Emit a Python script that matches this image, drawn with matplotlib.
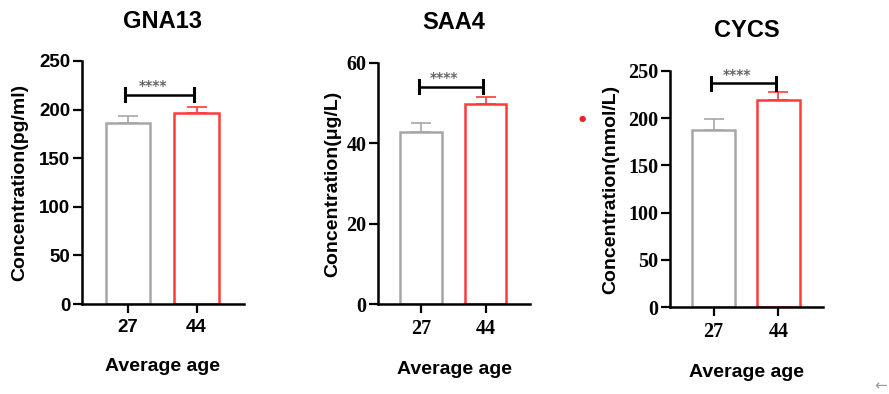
import matplotlib.pyplot as plt

# data
groups = ["27", "44"]
titles = ["GNA13", "SAA4", "CYCS"]
ylabels = ["Concentration(pg/ml)", "Concentration(μg/L)", "Concentration(nmol/L)"]
gna13_mean = [186.5, 197.0]
gna13_err = [7.0, 6.0]
saa4_mean = [42.9, 49.8]
saa4_err = [2.0, 1.7]
cycs_mean = [187.5, 219.0]
cycs_err = [11.5, 8.5]
sig_levels = [215.5, 54.0, 236.5]
yticks = [[0, 50, 100, 150, 200, 250], [0, 20, 40, 60], [0, 50, 100, 150, 200, 250]]
ymax = [250, 60, 250]

GRAY = "#a7a7aa"
RED = "#ff3b3b"

means = [gna13_mean, saa4_mean, cycs_mean]
errs = [gna13_err, saa4_err, cycs_err]
boxes = [
    [0.0922, 0.2284, 0.1822, 0.6168],
    [0.4255, 0.2277, 0.1706, 0.6132],
    [0.7537, 0.2201, 0.1724, 0.6005],
]
tick_fonts = ["Liberation Sans", "Liberation Serif", "Liberation Serif"]
tick_sizes = [13.5, 14.5, 14.5]
ylabel_pads = [8, 4, 6]

fig = plt.figure(figsize=(8.89, 3.94), dpi=100)

for i in range(3):
    ax = fig.add_axes(boxes[i])
    x = [0, 1]
    for j, c in enumerate([GRAY, RED]):
        ax.bar(x[j], means[i][j], width=0.65, facecolor="white", edgecolor=c,
               linewidth=1.8, zorder=2)
        ax.errorbar(x[j], means[i][j], yerr=[[0], [errs[i][j]]], color=c,
                    capsize=7, elinewidth=1.2, capthick=1.2, zorder=1)
    # significance bracket
    lo = sig_levels[i] - ymax[i] * 0.027
    hi = sig_levels[i] + ymax[i] * 0.027
    ax.plot([-0.04, 0.96], [sig_levels[i]] * 2, color="black", lw=1.8)
    ax.plot([-0.04, -0.04, None, 0.96, 0.96], [lo, hi, None, lo, hi],
            color="black", lw=2.2, clip_on=False)
    ax.text(0.36, sig_levels[i] + ymax[i] * 0.006, "****", color="#666666",
            fontsize=10, ha="center", va="bottom", fontweight="bold")

    ax.set_xlim(-0.67, 1.69)
    ax.set_ylim(0, ymax[i])
    ax.set_yticks(yticks[i])
    ax.set_xticks(x)
    ax.set_xticklabels(groups)
    for s in ["top", "right"]:
        ax.spines[s].set_visible(False)
    for s in ["left", "bottom"]:
        ax.spines[s].set_linewidth(1.8)
    ax.tick_params(width=1.6, length=6.5, pad=2)
    ax.tick_params(axis="x", pad=4)
    for lab in ax.get_xticklabels() + ax.get_yticklabels():
        lab.set_family(tick_fonts[i])
        lab.set_fontweight("bold")
        lab.set_fontsize(tick_sizes[i])
    ax.set_ylabel(ylabels[i], family="Liberation Sans", fontweight="bold",
                  fontsize=14, labelpad=ylabel_pads[i])
    ax.set_xlabel("Average age", family="Liberation Sans", fontweight="bold",
                  fontsize=14, labelpad=16)
    ax.set_title(titles[i], family="Liberation Sans", fontweight="bold",
                 fontsize=17, pad=24)

# stray marks in the screenshot
fig.text(582 / 889, 1 - 118 / 394, "●", color="#ee2222", fontsize=6,
         ha="center", va="center")
fig.text(887 / 889, 1 - 386 / 394, "←", color="#999999", fontsize=11,
         ha="right", va="center")

fig.savefig("out.png", dpi=100)
